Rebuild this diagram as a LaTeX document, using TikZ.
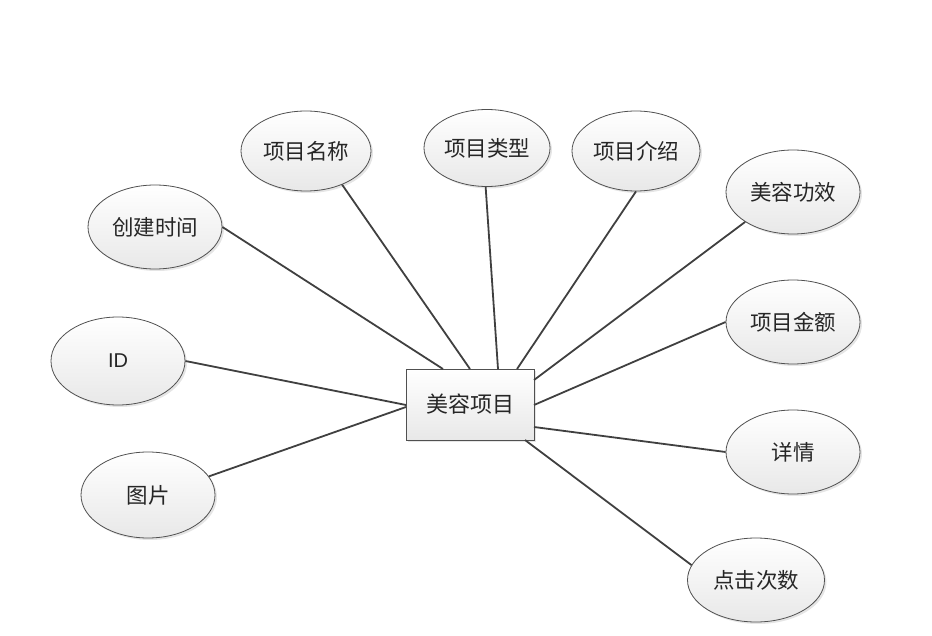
\documentclass[tikz,border=0pt]{standalone}
\usepackage{fontspec}
\newfontfamily\cjk{Noto Sans CJK SC}
\setsansfont{Liberation Sans}
\usetikzlibrary{shapes.geometric,shadows}
\definecolor{edge}{HTML}{404040}
\definecolor{outl}{HTML}{505050}
\tikzset{
  attr/.style={ellipse, draw=outl, line width=0.8pt, minimum width=134pt, minimum height=84pt,
    inner sep=0pt, top color=white, bottom color=black!9,
    drop shadow={shadow xshift=2pt, shadow yshift=-2pt, opacity=0.25, fill=black!40},
    font=\cjk\fontsize{21.5pt}{24pt}\selectfont, text=black!85},
  ent/.style={rectangle, draw=outl, line width=0.8pt, minimum width=128pt, minimum height=71pt,
    inner sep=0pt, top color=white, bottom color=black!9,
    drop shadow={shadow xshift=2pt, shadow yshift=-2pt, opacity=0.25, fill=black!40},
    font=\cjk\fontsize{22pt}{26pt}\selectfont, text=black!85},
  link/.style={draw=edge, line width=1.8pt}
}
\begin{document}
\begin{tikzpicture}[x=1pt,y=-1pt]
\useasboundingbox (0,0) rectangle (932,636);
\node[ent] (box) at (470,404.5) {美容项目};
\node[attr, minimum width=130pt, minimum height=80pt] (mc) at (306,151) {项目名称};
\node[attr, minimum width=126pt, minimum height=77pt] (lx) at (487,148) {项目类型};
\node[attr, minimum width=128pt, minimum height=80pt] (js) at (636,151) {项目介绍};
\node[attr] (gx) at (793,192) {美容功效};
\node[attr] (sj) at (155,227) {创建时间};
\node[attr, minimum height=88pt, font=\sffamily\fontsize{20pt}{22pt}\selectfont] (id) at (118,361) {ID};
\node[attr, minimum height=86pt] (tp) at (148,495) {图片};
\node[attr] (je) at (793,322) {项目金额};
\node[attr] (xq) at (793,452) {详情};
\node[attr, minimum width=137pt] (dj) at (756,580) {点击次数};
\coordinate (bsj) at (443,369);
\coordinate (bmc) at (470,369);
\coordinate (blx) at (498,369);
\coordinate (bjs) at (517,369);
\coordinate (bgx) at (534,380);
\coordinate (bje) at (534,405);
\coordinate (bxq) at (534,427);
\coordinate (bdj) at (525,440);
\coordinate (bid) at (406,405);
\coordinate (btp) at (406,407);
\draw[link] (sj.east) -- (bsj);
\draw[link] (mc.-43) -- (bmc);
\draw[link] (lx.-92) -- (blx);
\draw[link] (js.south) -- (bjs);
\draw[link] (gx.212) -- (bgx);
\draw[link] (je.west) -- (bje);
\draw[link] (xq.west) -- (bxq);
\draw[link] (dj.167) -- (bdj);
\draw[link] (id.east) -- (bid);
\draw[link] (tp.17) -- (btp);
\end{tikzpicture}
\end{document}
